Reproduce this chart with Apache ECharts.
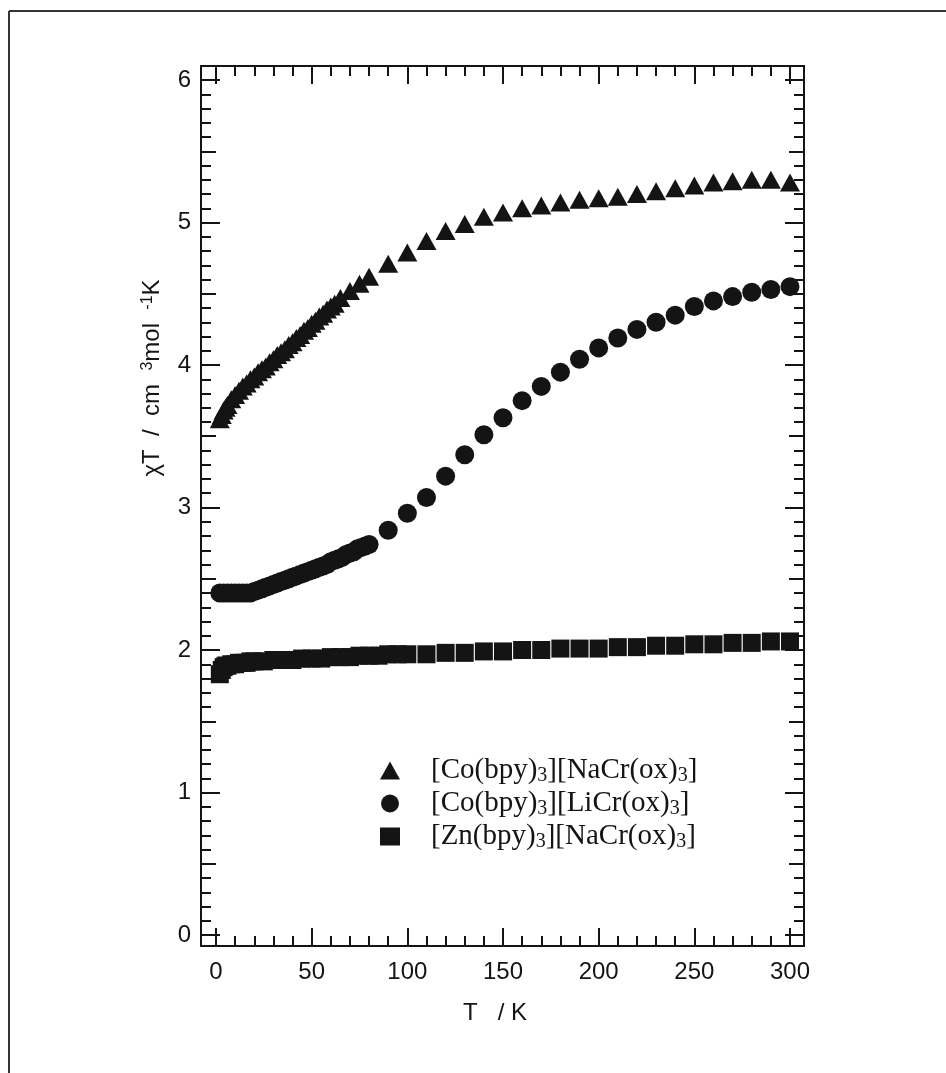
<!DOCTYPE html>
<html>
<head>
<meta charset="utf-8">
<script src="https://cdn.jsdelivr.net/npm/echarts@6/dist/echarts.min.js"></script>
<style>
    html, body { margin: 0; padding: 0; background: #fff; }
    #chart { width: 946px; height: 1073px; }
</style>
</head>
<body>
<div id="chart"></div>
<script>
// [Co(bpy)3][NaCr(ox)3]  - triangles
var tCoNa = [2, 3, 4, 5, 6, 8, 10, 12, 14, 16, 18, 20, 22, 24, 26, 28, 30, 32, 34, 36, 38, 40,
    42, 44, 46, 48, 50, 52, 54, 56, 58, 60, 62, 65, 70, 75, 80, 90, 100, 110, 120, 130, 140,
    150, 160, 170, 180, 190, 200, 210, 220, 230, 240, 250, 260, 270, 280, 290, 300];
var chiCoNa = [3.62, 3.65, 3.68, 3.70, 3.72, 3.76, 3.79, 3.82, 3.85, 3.87, 3.90, 3.92, 3.95, 3.97,
    3.99, 4.02, 4.04, 4.07, 4.09, 4.11, 4.14, 4.16, 4.19, 4.21, 4.24, 4.26, 4.29, 4.31, 4.34,
    4.36, 4.39, 4.41, 4.43, 4.47, 4.52, 4.57, 4.62, 4.71, 4.79, 4.87, 4.94, 4.99, 5.04, 5.07,
    5.10, 5.12, 5.14, 5.16, 5.17, 5.18, 5.20, 5.22, 5.24, 5.26, 5.28, 5.29, 5.30, 5.30, 5.28];

// [Co(bpy)3][LiCr(ox)3]  - circles
var tCoLi = [2, 4, 6, 8, 10, 12, 14, 16, 18, 20, 22, 24, 26, 28, 30, 32, 34, 36, 38, 40, 42, 44,
    46, 48, 50, 52, 54, 56, 58, 60, 62, 64, 66, 68, 70, 72, 74, 76, 78, 80, 90, 100, 110, 120,
    130, 140, 150, 160, 170, 180, 190, 200, 210, 220, 230, 240, 250, 260, 270, 280, 290, 300];
var chiCoLi = [2.40, 2.40, 2.40, 2.40, 2.40, 2.40, 2.40, 2.40, 2.40, 2.41, 2.42, 2.43, 2.44, 2.45,
    2.46, 2.47, 2.48, 2.49, 2.50, 2.51, 2.52, 2.53, 2.54, 2.55, 2.56, 2.57, 2.58, 2.59, 2.60,
    2.62, 2.63, 2.64, 2.65, 2.67, 2.68, 2.69, 2.71, 2.72, 2.73, 2.74, 2.84, 2.96, 3.07, 3.22,
    3.37, 3.51, 3.63, 3.75, 3.85, 3.95, 4.04, 4.12, 4.19, 4.25, 4.30, 4.35, 4.41, 4.45, 4.48,
    4.51, 4.53, 4.55];

// [Zn(bpy)3][NaCr(ox)3]  - squares
var tZn = [2, 3, 4, 5, 6, 8, 10, 12, 14, 16, 18, 20, 25, 30, 35, 40, 45, 50, 55, 60, 65, 70, 75,
    80, 85, 90, 95, 100, 110, 120, 130, 140, 150, 160, 170, 180, 190, 200, 210, 220, 230, 240,
    250, 260, 270, 280, 290, 300];
var chiZn = [1.83, 1.86, 1.88, 1.89, 1.89, 1.90, 1.90, 1.91, 1.91, 1.91, 1.92, 1.92, 1.92, 1.93,
    1.93, 1.93, 1.94, 1.94, 1.94, 1.95, 1.95, 1.95, 1.96, 1.96, 1.96, 1.97, 1.97, 1.97, 1.97,
    1.98, 1.98, 1.99, 1.99, 2.00, 2.00, 2.01, 2.01, 2.01, 2.02, 2.02, 2.03, 2.03, 2.04, 2.04,
    2.05, 2.05, 2.06, 2.06];

var seriesNames = ['[Co(bpy)3][NaCr(ox)3]', '[Co(bpy)3][LiCr(ox)3]', '[Zn(bpy)3][NaCr(ox)3]'];
// same names written with rich-text subscripts for the legend
var seriesRich = [
    '{g| }{n|[Co(bpy)}{s|3}{n|][NaCr(ox)}{s|3}{n|]}',
    '{g| }{n|[Co(bpy)}{s|3}{n|][LiCr(ox)}{s|3}{n|]}',
    '{g| }{n|[Zn(bpy)}{s|3}{n|][NaCr(ox)}{s|3}{n|]}'
];

var ink = '#141414';
var font = 'Liberation Sans, Arial, Helvetica, sans-serif';
var serif = 'Liberation Serif, Times New Roman, serif';

function pairs(xs, ys) {
    var out = [];
    for (var i = 0; i < xs.length; i++) {
        out.push([xs[i], ys[i]]);
    }
    return out;
}

// tick-only axis, the frame itself comes from grid 1
function xTicks(pos, offset, labels) {
    return {
        type: 'value', gridIndex: 0, position: pos, offset: offset,
        min: 0, max: 300, interval: 50,
        axisLine: { show: false, onZero: false },
        axisTick: { show: true, inside: true, length: 18, lineStyle: { color: ink, width: 2 } },
        minorTick: { show: true, splitNumber: 5, length: 10, lineStyle: { color: ink, width: 2 } },
        splitLine: { show: false },
        axisLabel: { show: labels, margin: 14, color: ink, fontSize: 24, fontFamily: font }
    };
}

function yTicks(pos, offset, labels, step, len, minor) {
    return {
        type: 'value', gridIndex: 0, position: pos, offset: offset,
        min: 0, max: 6, interval: step,
        axisLine: { show: false, onZero: false },
        axisTick: { show: true, inside: true, length: len, lineStyle: { color: ink, width: 2 } },
        minorTick: { show: minor, splitNumber: 10, length: 10, lineStyle: { color: ink, width: 2 } },
        splitLine: { show: false },
        axisLabel: { show: labels, margin: 10, color: ink, fontSize: 24, fontFamily: font }
    };
}

var myChart = echarts.init(document.querySelector('#chart'));

var xBottom = xTicks('bottom', 11, true);
xBottom.name = 'T   / K';
xBottom.nameLocation = 'middle';
xBottom.nameGap = 55;
xBottom.nameTextStyle = { color: ink, fontSize: 24, fontFamily: font, padding: [0, 16, 0, 0] };

var option = {
    backgroundColor: '#fff',
    animation: false,
    grid: [
        { left: 216, right: 156, top: 80, bottom: 138 },
        { left: 201, right: 142, top: 66, bottom: 127, show: true, borderColor: ink, borderWidth: 2 }
    ],
    xAxis: [
        xBottom,
        xTicks('top', 14, false),
        { type: 'value', gridIndex: 1, show: false }
    ],
    yAxis: [
        yTicks('left', 15, true, 1, 19, true),
        yTicks('right', 14, false, 1, 19, true),
        yTicks('left', 15, false, 0.5, 15, false),
        yTicks('right', 14, false, 0.5, 15, false),
        { type: 'value', gridIndex: 1, show: false }
    ],
    legend: {
        orient: 'vertical',
        left: 375,
        top: 751,
        itemWidth: 20,
        itemHeight: 18,
        itemGap: 3,
        data: seriesNames,
        formatter: function (name) {
            return seriesRich[seriesNames.indexOf(name)];
        },
        itemStyle: { opacity: 1 },
        textStyle: {
            color: ink,
            rich: {
                g: { width: 26, fontSize: 10 },
                n: { fontSize: 29, lineHeight: 31, fontFamily: serif, color: ink, verticalAlign: 'middle' },
                s: { fontSize: 20, lineHeight: 18, fontFamily: serif, color: ink, verticalAlign: 'bottom' }
            }
        }
    },
    graphic: [
        {
            type: 'text',
            x: 152,
            y: 378,
            rotation: Math.PI / 2,
            style: {
                text: 'χT  /  cm  {p|3}mol  {p|-1}K',
                font: '24px ' + font,
                fill: ink,
                textAlign: 'center',
                textVerticalAlign: 'middle',
                rich: {
                    p: { fontSize: 16, fontFamily: font, fill: ink, verticalAlign: 'top', lineHeight: 14 }
                }
            }
        },
        { type: 'line', shape: { x1: 9, y1: 11, x2: 9, y2: 1073 }, style: { stroke: '#333', lineWidth: 2 } },
        { type: 'line', shape: { x1: 9, y1: 11, x2: 946, y2: 11 }, style: { stroke: '#333', lineWidth: 2 } }
    ],
    series: [
        {
            name: seriesNames[0], type: 'scatter', xAxisIndex: 0, yAxisIndex: 0,
            symbol: 'triangle', symbolSize: [20, 18], clip: false,
            itemStyle: { color: ink, opacity: 1 },
            data: pairs(tCoNa, chiCoNa)
        },
        {
            name: seriesNames[1], type: 'scatter', xAxisIndex: 0, yAxisIndex: 0,
            symbol: 'circle', symbolSize: 19, clip: false,
            itemStyle: { color: ink, opacity: 1 },
            data: pairs(tCoLi, chiCoLi)
        },
        {
            name: seriesNames[2], type: 'scatter', xAxisIndex: 0, yAxisIndex: 0,
            symbol: 'rect', symbolSize: 18, clip: false,
            itemStyle: { color: ink, opacity: 1 },
            data: pairs(tZn, chiZn)
        }
    ]
};
myChart.setOption(option);
</script>
</body>
</html>
